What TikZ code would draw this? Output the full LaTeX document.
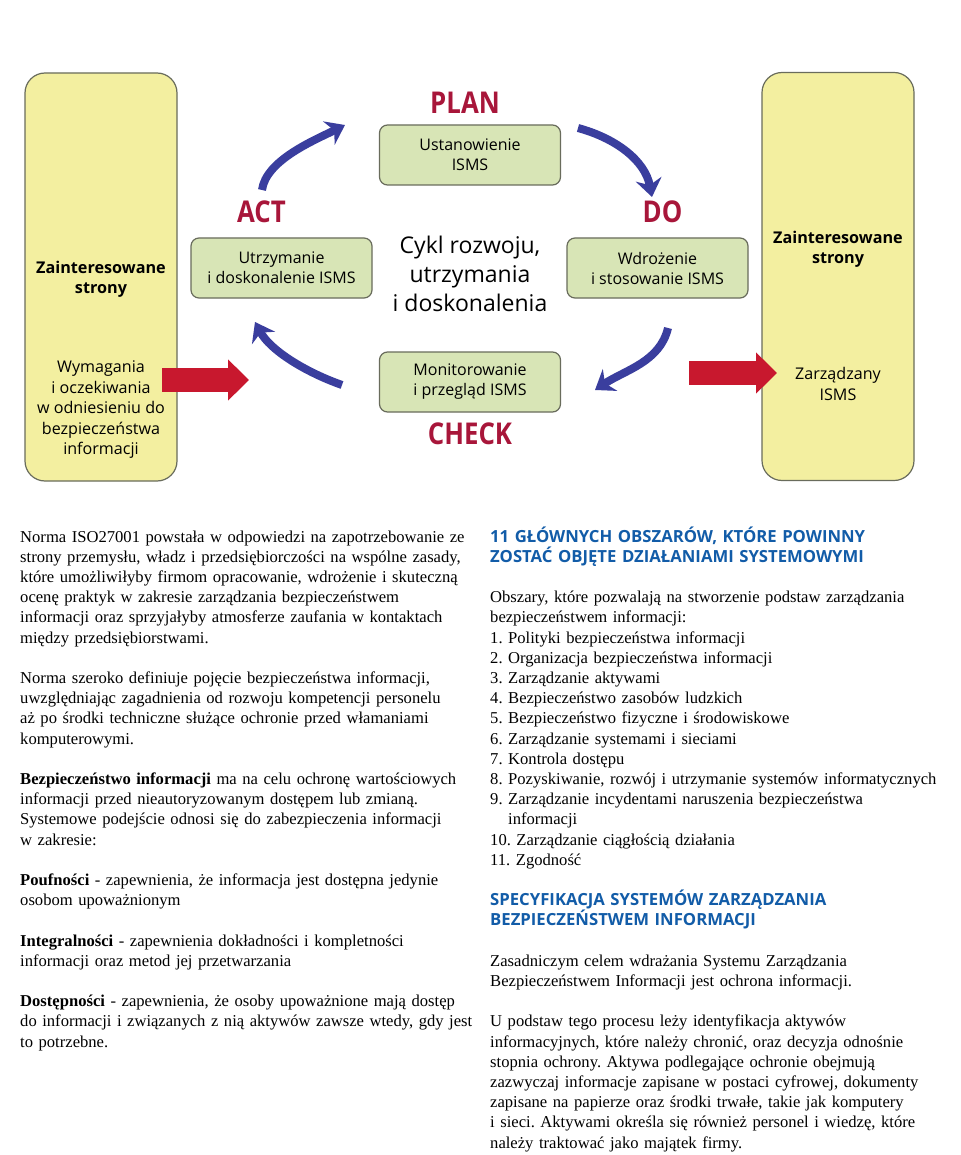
\documentclass[tikz,border=0pt]{standalone}
\usepackage{fontspec}
\setmainfont{Liberation Serif}
\setsansfont{Open Sans}
\newfontfamily\phasefont[FakeStretch=0.86]{Open Sans}
\usetikzlibrary{arrows.meta}
\usetikzlibrary{positioning}
\definecolor{ybox}{RGB}{243,239,160}
\definecolor{gbox}{RGB}{216,229,182}
\definecolor{boxline}{RGB}{105,108,92}
\definecolor{phasered}{RGB}{168,22,58}
\definecolor{cycblue}{RGB}{58,62,158}
\definecolor{flowred}{RGB}{200,24,46}
\definecolor{headblue}{RGB}{18,92,168}
\tikzset{
	yellowbox/.style={draw=boxline, fill=ybox, line width=1.2pt, rounded corners=20pt,
		minimum width=152pt, minimum height=408pt},
	greenbox/.style={draw=boxline, fill=gbox, line width=1.2pt, rounded corners=8pt,
		minimum width=181pt, minimum height=60pt, align=center,
		font=\sffamily\fontsize{16}{20}\selectfont},
	phase/.style={text=phasered, inner sep=0pt, font=\phasefont\bfseries\fontsize{30}{32}\selectfont},
	sidetext/.style={align=center, font=\sffamily\fontsize{16.1}{20.5}\selectfont},
}
\newcommand\headfont{\sffamily\bfseries\fontsize{16.7}{20.2}\selectfont\color{headblue}}

\begin{document}
\begin{tikzpicture}[x=1pt, y=-1pt,
	cyclearrow/.style={draw=cycblue, line width=8pt, -{Stealth[length=18pt,width=26pt,inset=6pt]}},
	inarrow/.style={draw=flowred, line width=24pt, -{Triangle[length=21pt,width=40pt]}},
	column/.style={anchor=base west, align=left, text width=468pt, inner sep=0pt,
		font=\fontsize{16.6}{20.2}\selectfont\frenchspacing}]
	
	\path[fill=white] (0,0) rectangle (960,1155);
	
	% side boxes
	\node[yellowbox] (Y1) at (101,277) {};
	\node[yellowbox] (Y2) at (838,276.5) {};
	\node[sidetext, font=\sffamily\bfseries\fontsize{16.2}{20}\selectfont] (Y1top) at (101,279) {Zainteresowane\\strony};
	\node[sidetext] (Y1bot) at (101,410) {Wymagania\\i oczekiwania\\w odniesieniu do\\bezpieczeństwa\\informacji};
	\node[sidetext, font=\sffamily\bfseries\fontsize{16.2}{20}\selectfont] (Y2top) at (838,249) {Zainteresowane\\strony};
	\node[sidetext] (Y2bot) at (838,384) {Zarządzany\\ISMS};
	
	% cycle boxes
	\node[greenbox] (plan) at (470,155) {Ustanowienie\\ISMS};
	\node[greenbox] (act) at (281.5,268) {Utrzymanie\\i doskonalenie ISMS};
	\node[greenbox] (do) at (657.5,268) {Wdrożenie\\i stosowanie ISMS};
	\node[greenbox] (check) at (470,382) {Monitorowanie\\i przegląd ISMS};
	\node[align=center, font=\sffamily\fontsize{23}{29}\selectfont] (title) at (470,274) {Cykl rozwoju,\\utrzymania\\i doskonalenia};
	
	% phase labels
	\node[phase, above=11pt of plan, xshift=-5pt] (planlbl) {PLAN};
	\node[phase, above=14pt of act, xshift=-20pt] (actlbl) {ACT};
	\node[phase, above=14pt of do, xshift=5pt] (dolbl) {DO};
	\node[phase, below=10pt of check] (checklbl) {CHECK};
	
	% cycle arrows
	\coordinate (a1s) at (262,190); \coordinate (a1e) at (345,125);
	\coordinate (a2s) at (578,128); \coordinate (a2e) at (652,197);
	\coordinate (a3s) at (668,328); \coordinate (a3e) at (595,390);
	\coordinate (a4s) at (342,385); \coordinate (a4e) at (255,322);
	\draw[cyclearrow] (a1s) .. controls (266,160) and (315,140) .. (a1e);
	\draw[cyclearrow] (a2s) .. controls (615,138) and (645,160) .. (a2e);
	\draw[cyclearrow] (a3s) .. controls (660,362) and (625,370) .. (a3e);
	\draw[cyclearrow] (a4s) .. controls (305,372) and (270,350) .. (a4e);
	
	% in / out arrows
	\coordinate (r1s) at (162,380); \coordinate (r1e) at (249,380);
	\coordinate (r2s) at (689,373); \coordinate (r2e) at (777,373);
	\draw[inarrow] (r1s) -- (r1e);
	\draw[inarrow] (r2s) -- (r2e);
	
	% text columns
	\node[column] (leftcol) at (20,542) {%
		Norma ISO27001 powstała w odpowiedzi na zapotrzebowanie ze\\
		strony przemysłu, władz i przedsiębiorczości na wspólne zasady,\\
		które umożliwiłyby firmom opracowanie, wdrożenie i skuteczną\\
		ocenę praktyk w zakresie zarządzania bezpieczeństwem\\
		informacji oraz sprzyjałyby atmosferze zaufania w kontaktach\\
		między przedsiębiorstwami.\\[20.2pt]
		Norma szeroko definiuje pojęcie bezpieczeństwa informacji,\\
		uwzględniając zagadnienia od rozwoju kompetencji personelu\\
		aż po środki techniczne służące ochronie przed włamaniami\\
		komputerowymi.\\[20.2pt]
		\textbf{Bezpieczeństwo informacji} ma na celu ochronę wartościowych\\
		informacji przed nieautoryzowanym dostępem lub zmianą.\\
		Systemowe podejście odnosi się do zabezpieczenia informacji\\
		w zakresie:\\[20.2pt]
		\textbf{Poufności} - zapewnienia, że informacja jest dostępna jedynie\\
		osobom upoważnionym\\[20.2pt]
		\textbf{Integralności} - zapewnienia dokładności i kompletności\\
		informacji oraz metod jej przetwarzania\\[20.2pt]
		\textbf{Dostępności} - zapewnienia, że osoby upoważnione mają dostęp\\
		do informacji i związanych z nią aktywów zawsze wtedy, gdy jest\\
		to potrzebne.};
	\node[column] (rightcol) at (490,542) {%
		{\headfont 11 GŁÓWNYCH OBSZARÓW, KTÓRE POWINNY}\\
		{\headfont ZOSTAĆ OBJĘTE DZIAŁANIAMI SYSTEMOWYMI}\\[20.2pt]
		Obszary, które pozwalają na stworzenie podstaw zarządzania\\
		bezpieczeństwem informacji:\\
		1. Polityki bezpieczeństwa informacji\\
		2. Organizacja bezpieczeństwa informacji\\
		3. Zarządzanie aktywami\\
		4. Bezpieczeństwo zasobów ludzkich\\
		5. Bezpieczeństwo fizyczne i środowiskowe\\
		6. Zarządzanie systemami i sieciami\\
		7. Kontrola dostępu\\
		8. Pozyskiwanie, rozwój i utrzymanie systemów informatycznych\\
		9. Zarządzanie incydentami naruszenia bezpieczeństwa\\
		\phantom{9. }informacji\\
		10. Zarządzanie ciągłością działania\\
		11. Zgodność\\[20.2pt]
		{\headfont SPECYFIKACJA SYSTEMÓW ZARZĄDZANIA}\\
		{\headfont BEZPIECZEŃSTWEM INFORMACJI}\\[20.2pt]
		Zasadniczym celem wdrażania Systemu Zarządzania\\
		Bezpieczeństwem Informacji jest ochrona informacji.\\[20.2pt]
		U podstaw tego procesu leży identyfikacja aktywów\\
		informacyjnych, które należy chronić, oraz decyzja odnośnie\\
		stopnia ochrony. Aktywa podlegające ochronie obejmują\\
		zazwyczaj informacje zapisane w postaci cyfrowej, dokumenty\\
		zapisane na papierze oraz środki trwałe, takie jak komputery\\
		i sieci. Aktywami określa się również personel i wiedzę, które\\
		należy traktować jako majątek firmy.};
\end{tikzpicture}
\end{document}
